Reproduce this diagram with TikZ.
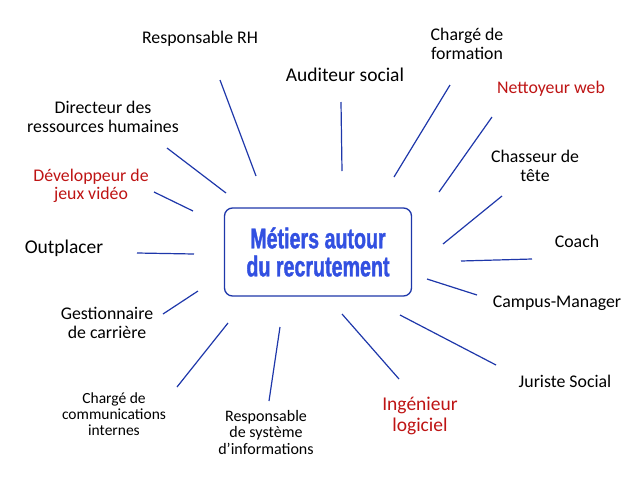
\documentclass[tikz,border=0pt]{standalone}
\usepackage{fontspec}
\setmainfont{Carlito}
\newfontfamily\hubfont[FakeStretch=0.69, FakeBold=1.2]{Liberation Sans}
\usepackage{xcolor}
\usetikzlibrary{positioning}

\definecolor{raycol}{RGB}{30,55,170}
\definecolor{hubtext}{RGB}{50,80,225}
\definecolor{jobred}{RGB}{190,20,20}

\begin{document}
\begin{tikzpicture}[
    x=1pt, y=-1pt,
    hub/.style={rectangle, rounded corners=8pt, draw=raycol, line width=1.3pt, fill=white, minimum width=187pt, minimum height=88pt, align=center, text=hubtext, font=\hubfont\bfseries\fontsize{28.5}{28}\selectfont},
    job/.style={align=center, inner sep=0pt, font=\fontsize{17.8}{18.5}\selectfont},
    jobbig/.style={job, font=\fontsize{19.5}{20.5}\selectfont},
    jobsmall/.style={job, font=\fontsize{15.5}{16}\selectfont},
    red/.style={text=jobred},
    ray/.style={draw=raycol, line width=1.2pt},
]
\useasboundingbox (0,0) rectangle (640,480);

\node[hub] (hub) at (318,252) {M\'etiers autour\\du recrutement};

\node[job] (rh) at (200,39) {Responsable RH};
\node[jobbig] (audit) at (345,75) {Auditeur social};
\node[job] (formation) at (467,44) {Charg\'e de\\formation};
\node[job, red] (web) at (551,89) {Nettoyeur web};
\node[job] (chasseur) at (535,166) {Chasseur de\\t\^ete};
\node[job] (coach) at (577,241) {Coach};
\node[job] (campus) at (557,303) {Campus-Manager};
\node[job] (juriste) at (565,381) {Juriste Social};
\node[jobbig, red] (ingenieur) at (420,416) {Ing\'enieur\\logiciel};
\node[jobsmall, font=\fontsize{16}{16.5}\selectfont] (si) at (266,432) {Responsable\\de syst\`eme\\d\symbol{39}informations};
\node[jobsmall] (comm) at (114,414) {Charg\'e de\\communications\\internes};
\node[job] (carriere) at (107,323) {Gestionnaire\\de carri\`ere};
\node[jobbig] (outplacer) at (64,248) {Outplacer};
\node[job, red] (jeux) at (91,186) {D\'eveloppeur de\\jeux vid\'eo};
\node[job] (drh) at (103,117) {Directeur des\\ressources humaines};

% rays
\coordinate (rh-a) at (220,80);       \coordinate (rh-b) at (256,176);
\coordinate (drh-a) at (167,148);     \coordinate (drh-b) at (226,193);
\coordinate (jeux-a) at (154,192);    \coordinate (jeux-b) at (193,211);
\coordinate (out-a) at (137,253);     \coordinate (out-b) at (194,254);
\coordinate (car-a) at (163,314);     \coordinate (car-b) at (198,291);
\coordinate (comm-a) at (177,387);    \coordinate (comm-b) at (228,323);
\coordinate (si-a) at (269,401);      \coordinate (si-b) at (280,327);
\coordinate (ing-a) at (399,379);     \coordinate (ing-b) at (342,314);
\coordinate (jur-a) at (496,365);     \coordinate (jur-b) at (400,315);
\coordinate (cam-a) at (477,295);     \coordinate (cam-b) at (427,279);
\coordinate (coach-a) at (532,259);   \coordinate (coach-b) at (461,261);
\coordinate (chas-a) at (502,196);    \coordinate (chas-b) at (443,244);
\coordinate (web-a) at (492,117);     \coordinate (web-b) at (439,192);
\coordinate (form-a) at (450,85);     \coordinate (form-b) at (394,177);
\coordinate (aud-a) at (341,102);     \coordinate (aud-b) at (342,171);

\draw[ray] (rh-a) -- (rh-b);
\draw[ray] (drh-a) -- (drh-b);
\draw[ray] (jeux-a) -- (jeux-b);
\draw[ray] (out-a) -- (out-b);
\draw[ray] (car-a) -- (car-b);
\draw[ray] (comm-a) -- (comm-b);
\draw[ray] (si-a) -- (si-b);
\draw[ray] (ing-a) -- (ing-b);
\draw[ray] (jur-a) -- (jur-b);
\draw[ray] (cam-a) -- (cam-b);
\draw[ray] (coach-a) -- (coach-b);
\draw[ray] (chas-a) -- (chas-b);
\draw[ray] (web-a) -- (web-b);
\draw[ray] (form-a) -- (form-b);
\draw[ray] (aud-a) -- (aud-b);

\end{tikzpicture}
\end{document}
